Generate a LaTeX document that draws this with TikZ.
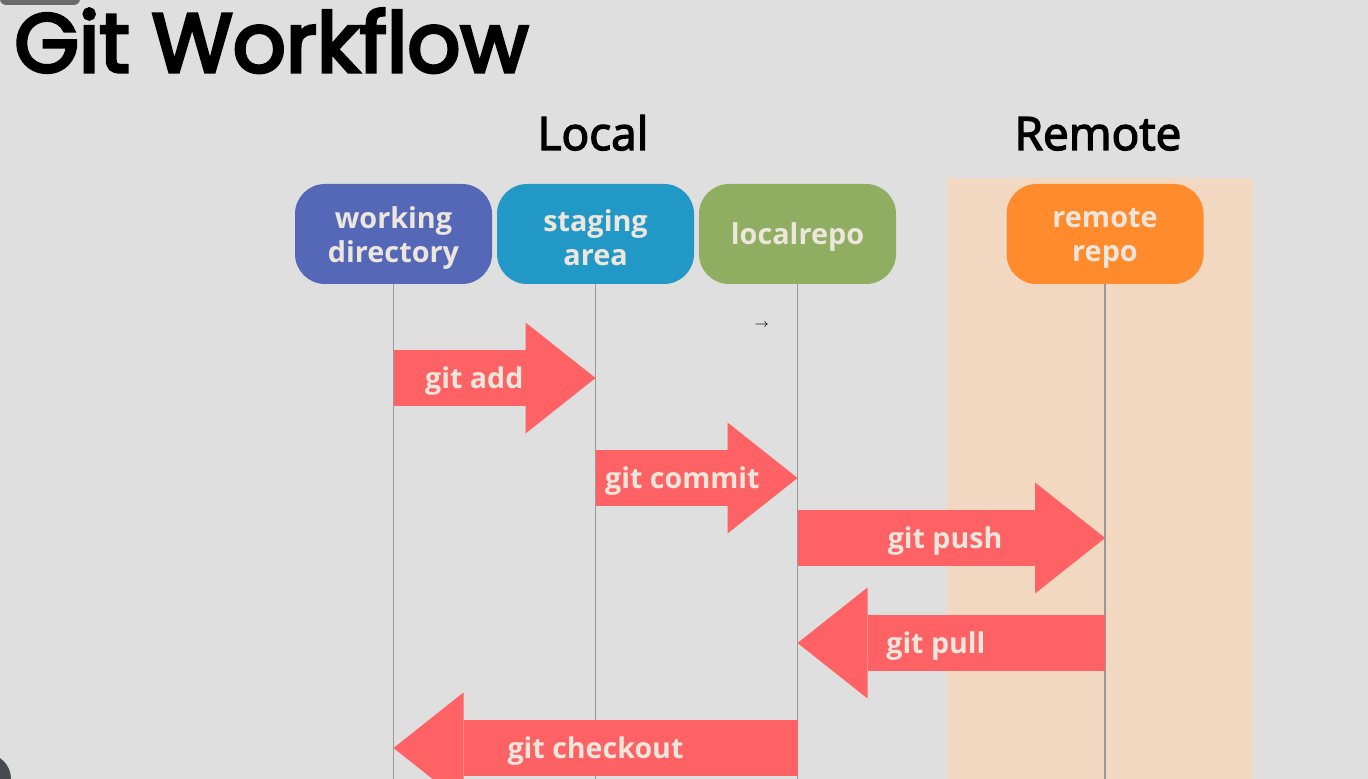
\documentclass[tikz,border=0pt]{standalone}
\usepackage{fontspec}
\setmainfont{Open Sans}
\newfontfamily\titlefont[FakeBold=4]{Poppins}
\newfontfamily\headfont[FakeBold=3]{Open Sans}
\usetikzlibrary{arrows.meta}
\definecolor{bggray}{HTML}{DFDFDF}
\definecolor{bandorange}{HTML}{F2D8C0}
\definecolor{wdblue}{HTML}{5568B8}
\definecolor{sablue}{HTML}{2298C6}
\definecolor{lrgreen}{HTML}{8FAE62}
\definecolor{rrorange}{HTML}{FF8B2C}
\definecolor{arrowred}{HTML}{FF6264}
\definecolor{cream}{HTML}{EDE6DC}
\definecolor{linegray}{HTML}{999999}
\definecolor{tabgray}{HTML}{6A6A6A}
\definecolor{dotgray}{HTML}{474B50}
\begin{document}
\begin{tikzpicture}[x=0.5pt,y=-0.5pt,
    box/.style={rounded corners=15pt, minimum width=98.5pt, minimum height=50pt, inner sep=0pt},
    boxtext/.style={align=center, text=cream, yshift=-2pt, font=\fontsize{14.4}{17}\selectfont\bfseries},
    lifeline/.style={draw=linegray, line width=0.9pt},
    gitarrow/.style={draw=arrowred, line width=28pt,
      -{Triangle[length=35pt, width=55.5pt, line width=0pt]}},
    cmd/.style={text=cream, yshift=-1.5pt, font=\fontsize{14.3}{16}\selectfont\bfseries}]
  \useasboundingbox (0,0) rectangle (1368,779);
  \clip (0,0) rectangle (1368,779);
  \fill[bggray] (0,0) rectangle (1368,779);
  \fill[tabgray, rounded corners=3pt] (0,-12) rectangle (80,5);
  \fill[bandorange] (947,178) rectangle (1253,779);
  \node[anchor=base west, inner sep=0pt, font=\titlefont\fontsize{41.5}{41.5}\selectfont] (title) at (14,72) {Git Workflow};
  \node[anchor=base, font=\headfont\fontsize{23}{23}\selectfont] (local) at (593,150) {Local};
  \node[anchor=base, font=\headfont\fontsize{23}{23}\selectfont] (remote) at (1098,150) {Remote};
  \node[box, fill=wdblue, label={[boxtext]center:working\\directory}] (wd) at (393.5,234) {};
  \node[box, fill=sablue, label={[boxtext]center:staging\\area}] (sa) at (595.5,234) {};
  \node[box, fill=lrgreen, label={[boxtext, yshift=0.5pt]center:localrepo}] (lr) at (797.5,234) {};
  \node[box, fill=rrorange, label={[boxtext]center:remote\\repo}] (rr) at (1105,234) {};
  \draw[lifeline] (wd.south) -- (wd |- 0,779);
  \draw[lifeline] (sa.south) -- (sa |- 0,779);
  \draw[lifeline] (lr.south) -- (lr |- 0,779);
  \draw[lifeline] (rr.south) -- (rr |- 0,779);
  \node (cursor) at (762,325) {\fontsize{6}{7}\selectfont$\rightarrow$};
  \draw[gitarrow] (wd |- 0,378) -- (sa |- 0,378) node[cmd, pos=0.4] {git add};
  \draw[gitarrow] (sa |- 0,478) -- (lr |- 0,478) node[cmd, pos=0.43] {git commit};
  \draw[gitarrow] (lr |- 0,538) -- (rr |- 0,538) node[cmd, pos=0.48] {git push};
  \draw[gitarrow] (rr |- 0,643) -- (lr |- 0,643) node[cmd, pos=0.55] {git pull};
  \draw[gitarrow] (lr |- 0,748) -- (wd |- 0,748) node[cmd, pos=0.5] {git checkout};
  \fill[dotgray] (-14.5,779) circle (25.5);
\end{tikzpicture}
\end{document}
